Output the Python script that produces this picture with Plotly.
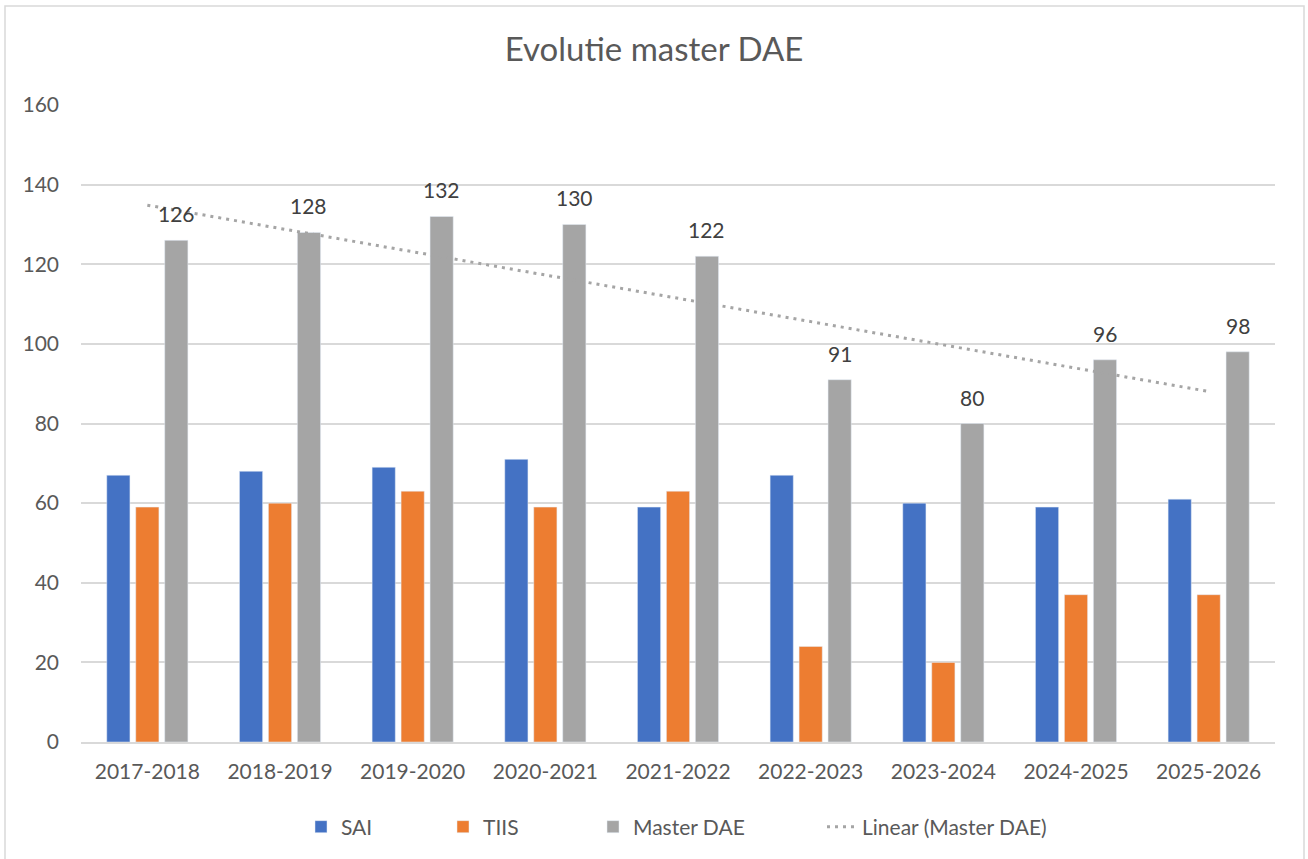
import numpy as np
import plotly.graph_objects as go

categories = ["2017-2018", "2018-2019", "2019-2020", "2020-2021", "2021-2022",
              "2022-2023", "2023-2024", "2024-2025", "2025-2026"]
sai = [67, 68, 69, 71, 59, 67, 60, 59, 61]
tiis = [59, 60, 63, 59, 63, 24, 20, 37, 37]
master_dae = [126, 128, 132, 130, 122, 91, 80, 96, 98]
y_ticks = [0, 20, 40, 60, 80, 100, 120, 140, 160]

# linear trend (least squares) for Master DAE
xi = np.arange(1, len(master_dae) + 1)
slope, intercept = np.polyfit(xi, master_dae, 1)
trend = list(slope * xi + intercept)

FONT = "Lato, Open Sans, sans-serif"
TXT = "#595959"

L, R, T, B = 81, 33, 105, 117
W, H = 1308, 859
PW, PH = W - L - R, H - T - B
BARGAP, GROUPGAP = 0.345, 0.2


def px_x(x):
    return (x - L) / PW


def px_y(y):
    return (H - B - y) / PH


# offset of the 3rd bar in each group (pixels), from the bar layout settings
slot = PW / len(categories) * (1 - BARGAP) / 3
master_shift = slot

fig = go.Figure()
fig.add_bar(x=categories, y=sai, name="SAI", marker_color="#4472C4", legend="legend")
fig.add_bar(x=categories, y=tiis, name="TIIS", marker_color="#ED7D31", legend="legend2")
fig.add_bar(x=categories, y=master_dae, name="Master DAE", marker_color="#A5A5A5",
            legend="legend3")
fig.add_scatter(x=categories, y=trend, mode="lines", name="Linear (Master DAE)",
                line=dict(color="#A5A5A5", width=3, dash="3px,5px"), legend="legend4")

annotations = [dict(x=c, y=v, text=str(v), showarrow=False, yanchor="bottom",
                    xanchor="center", xshift=master_shift, yshift=12,
                    font=dict(family=FONT, size=21, color="#404040"))
               for c, v in zip(categories, master_dae)]

leg_common = dict(orientation="h", yanchor="middle", xanchor="left",
                  font=dict(family=FONT, size=21, color=TXT),
                  bgcolor="rgba(0,0,0,0)", itemwidth=30)
ly = px_y(827)

fig.update_layout(
    width=W, height=H,
    margin=dict(l=L, r=R, t=T, b=B, autoexpand=False),
    paper_bgcolor="white", plot_bgcolor="white",
    title=dict(text="Evolutie master DAE", x=0.5, xanchor="center",
               y=1 - 49 / H, yanchor="middle",
               font=dict(family=FONT, size=33, color=TXT)),
    barmode="group", bargap=BARGAP, bargroupgap=GROUPGAP,
    font=dict(family=FONT, size=21, color=TXT),
    showlegend=True,
    legend=dict(x=px_x(341 - 40), y=ly, **leg_common),
    legend2=dict(x=px_x(483 - 40), y=ly, **leg_common),
    legend3=dict(x=px_x(633 - 40), y=ly, **leg_common),
    legend4=dict(x=px_x(862 - 40), y=ly, **leg_common),
    annotations=annotations,
    xaxis=dict(showgrid=False, showline=True, linecolor="#D9D9D9", linewidth=1.5,
               ticks="", automargin=False, ticklabelstandoff=10,
               tickfont=dict(family=FONT, size=21, color=TXT)),
    yaxis=dict(range=[0, 160], tickvals=y_ticks, showgrid=True, gridcolor="#D9D9D9",
               gridwidth=1.5, zeroline=False, showline=False, ticks="",
               ticklabelstandoff=21, automargin=False,
               tickfont=dict(family=FONT, size=21, color=TXT)),
    shapes=[dict(type="rect", xref="paper", yref="paper",
                 x0=px_x(5), x1=px_x(1304),
                 y0=px_y(870), y1=px_y(6),
                 line=dict(color="#D9D9D9", width=1.5), fillcolor="rgba(0,0,0,0)",
                 layer="below")],
)

fig.write_html("out.html", config={"displayModeBar": False},
               post_script="document.body.style.margin='0';document.body.style.padding='0';")
